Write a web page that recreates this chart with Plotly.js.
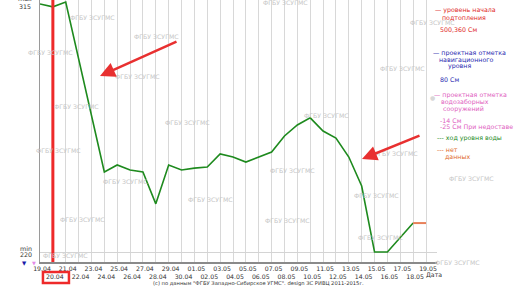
<!DOCTYPE html>
<html>
<head>
<meta charset="utf-8">
<script src="https://cdn.plot.ly/plotly-3.0.1.min.js"></script>
<style>html,body{margin:0;padding:0;background:#fff}#chart{width:516px;height:290px}</style>
</head>
<body>
<div id="chart"></div>
<script>
// ---- data ----
const levelDates = ['2015-04-19','2015-04-20','2015-04-21','2015-04-24','2015-04-25','2015-04-26','2015-04-27','2015-04-28','2015-04-29','2015-04-30','2015-05-01','2015-05-02','2015-05-03','2015-05-04','2015-05-05','2015-05-06','2015-05-07','2015-05-08','2015-05-09','2015-05-10','2015-05-11','2015-05-12','2015-05-13','2015-05-14','2015-05-15','2015-05-16','2015-05-18'];
const levelValues = [314.3, 313.2, 315, 250.4, 253.1, 251.2, 250.4, 238.3, 253.1, 251.2, 251.9, 252.3, 257.3, 256.1, 254.2, 256.1, 258, 264.1, 268.3, 271, 266, 263.3, 256.1, 245.1, 220, 220, 231];
const noDataDates = ['2015-05-18','2015-05-19'];
const noDataValues = [231, 231];
const tickLabels = ['19.04','20.04','21.04','22.04','23.04','24.04','25.04','26.04','27.04','28.04','29.04','30.04','01.05','02.05','03.05','04.05','05.05','06.05','07.05','08.05','09.05','10.05','11.05','12.05','13.05','14.05','15.05','16.05','17.05','18.05','19.05'];
const markedDate = '2015-04-20';
const minLevel = 220, maxLevel = 315;

// ---- helpers ----
const toIso = s => '2015-' + s.slice(3,5) + '-' + s.slice(0,2);
const tickVals = tickLabels.map(toIso);
const tickText = tickLabels.map((t,i) => i % 2 === 0 ? t : '<br>' + t);
const PX = p => (p - 40) / 397;
const PY = p => (262 - p) / 262;
const FONT = 'DejaVu Sans, Verdana, sans-serif';

const traces = [
  {x: levelDates, y: levelValues, type: 'scatter', mode: 'lines',
   line: {color: '#1e8a1e', width: 1.6}, hoverinfo: 'skip'},
  {x: noDataDates, y: noDataValues, type: 'scatter', mode: 'lines',
   line: {color: '#e8805a', width: 2}, hoverinfo: 'skip'}
];

const ann = [];
// watermarks
const wm = [[285,3],[92,17],[156,36],[432,23],[50,53],[137,76],[402,68],[76,107],[326,115],[187,123],[58,150],[395,153],[292,170],[471,178],[125,182],[376,195],[210,200],[82,219],[287,220],[380,237],[65,255],[457,262]];
wm.forEach(([x,y]) => ann.push({xref:'paper', yref:'paper', x: PX(x), y: PY(y), text:'ФГБУ ЗСУГМС', showarrow:false,
  font:{family:FONT, size:6.2, color:'#c6c6c6'}, xanchor:'center', yanchor:'middle'}));

// max/min labels
const lab = (t, x, y, color, size, anchor) => ann.push({xref:'paper', yref:'paper', x: PX(x), y: PY(y), text: t, showarrow:false,
  font:{family:FONT, size: size || 6.3, color: color || '#333'}, xanchor: anchor || 'center', yanchor:'middle'});
lab('max', 25, -1.5);
lab(String(maxLevel), 25, 6);
lab('min', 26, 248);
lab(String(minLevel), 26, 254.5);
lab('▼', 24, 262.5, '#1a1aa8', 5.5);
lab('▼', 34, 262.5, '#e48ae8', 5);
lab('Дата', 434, 274, '#333', 6.2);
lab('(c) по данным "ФГБУ Западно-Сибирское УГМС". design ЗС РИВЦ 2011-2015г.', 258, 283, '#333', 5.2);
lab('●', 432, 97, '#d8d8d8', 6);

// legend texts
const red = '#e02828', blue = '#2828b0', pink = '#e060c0', green = '#1e8a1e', orange = '#e06a2a';
lab('— уровень начала', 465, 10, red);
lab('подтопления', 464, 17, red);
lab('500,360 См', 438, 29, red, 6.3, 'left');
lab('— проектная отметка', 469, 53, blue);
lab('навигационного', 467, 59.5, blue);
lab('уровня', 459, 66, blue);
lab('80 См', 438, 79, blue, 6.3, 'left');
lab('— проектная отметка', 470, 95, pink);
lab('водозаборных', 465.5, 102, pink);
lab('сооружений', 463.5, 108.5, pink);
lab('-14 См', 438, 120, pink, 6.3, 'left');
lab('-25 См При недоставе', 438, 126.5, pink, 6.3, 'left');
lab('--- ход уровня воды', 435, 138, green, 6.3, 'left');
lab('--- нет', 435, 149, orange, 6.3, 'left');
lab('данных', 443, 156, orange, 6.3, 'left');

// arrows
const arrow = (hx, hy, tx, ty) => ann.push({xref:'paper', yref:'paper', x: PX(hx), y: PY(hy), ax: tx - hx, ay: ty - hy,
  text:'', showarrow:true, arrowhead:2, arrowsize:1.2, arrowwidth:2.5, arrowcolor:'#e83030'});
arrow(100, 76, 178, 41);
arrow(362, 159, 421, 135);

const layout = {
  width: 516, height: 290,
  margin: {l: 40, r: 79, t: 0, b: 28, pad: 0},
  paper_bgcolor: '#fff', plot_bgcolor: '#fff',
  showlegend: false,
  xaxis: {type: 'date', range: ['2015-04-19', '2015-05-19 20:30'],
    tickmode: 'array', tickvals: tickVals, ticktext: tickText, ticks: '',
    ticklabelshift: 2, tickangle: 0,
    tickfont: {family: FONT, size: 6.2, color: '#333'},
    showgrid: true, gridcolor: '#d8d8d8', gridwidth: 1,
    showline: true, linecolor: '#8a8a8a', linewidth: 1.5, zeroline: false, fixedrange: true},
  yaxis: {range: [216.2, 315.8], tickmode: 'array', tickvals: [minLevel], showticklabels: false, ticks: '',
    showgrid: true, gridcolor: '#d4d4d4', gridwidth: 1,
    showline: true, linecolor: '#9a9a9a', linewidth: 1.5, zeroline: false, fixedrange: true},
  shapes: [
    {type: 'line', xref: 'x', yref: 'paper', x0: markedDate, x1: markedDate, y0: 0, y1: 1,
     line: {color: '#ee2a2a', width: 3}},
    {type: 'rect', xref: 'x', yref: 'paper', x0: '2015-04-19 05:30', x1: '2015-04-21 06:00', y0: -0.08, y1: -0.038,
     line: {color: '#ee2a2a', width: 2.5}}
  ],
  annotations: ann
};

Plotly.newPlot('chart', traces, layout, {staticPlot: true, displayModeBar: false});
</script>
</body>
</html>
